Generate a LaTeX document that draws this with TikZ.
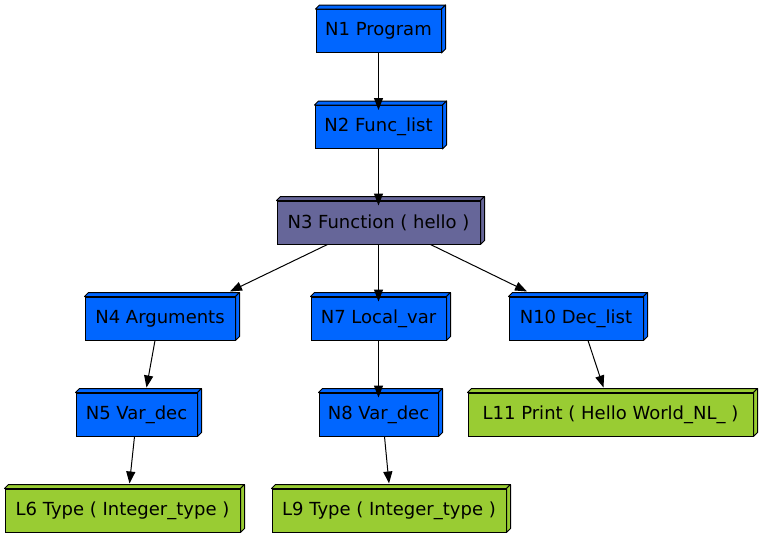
\documentclass[tikz,border=0pt]{standalone}
\usepackage{fontspec}
\setmainfont{DejaVu Sans}
\usetikzlibrary{arrows.meta,calc}
\definecolor{nblue}{HTML}{0066FF}
\definecolor{nslate}{HTML}{666699}
\definecolor{lgreen}{HTML}{99CC33}
\tikzset{
  box/.style={draw=black, line width=1pt, rectangle, minimum height=43pt, inner sep=0pt,
    font=\fontsize{18}{21}\selectfont, text=black},
  edge/.style={line width=1pt, -{Triangle[length=12pt,width=9pt]}},
  face/.style={draw=black, line width=1pt, line join=round}
}
\newcommand{\depthfaces}[2]{%
  \filldraw[face, fill=#2] (#1.north west) -- ++(4,-4) -- ($(#1.north east)+(4,-4)$) -- (#1.north east) -- cycle;
  \filldraw[face, fill=#2] (#1.north east) -- ++(4,-4) -- ($(#1.south east)+(4,-4)$) -- (#1.south east) -- cycle;
}
\begin{document}
\begin{tikzpicture}[x=1pt,y=-1pt]
\useasboundingbox (0,0) rectangle (764,539);
\fill[white] (0,0) rectangle (764,539);
\node[box, fill=nblue, minimum width=125pt] (n1) at (378.5,31) {N1 Program};
\node[box, fill=nblue, minimum width=127pt] (n2) at (378.5,127) {N2 Func\_list};
\node[box, fill=nslate, minimum width=203pt] (n3) at (378.5,222.5) {N3 Function ( hello )};
\node[box, fill=nblue, minimum width=150pt] (n4) at (160,318.5) {N4 Arguments};
\node[box, fill=nblue, minimum width=135pt] (n7) at (378.5,318.5) {N7 Local\_var};
\node[box, fill=nblue, minimum width=134pt] (n10) at (576,318.5) {N10 Dec\_list};
\node[box, fill=nblue, minimum width=121pt] (n5) at (136.5,414.5) {N5 Var\_dec};
\node[box, fill=nblue, minimum width=119pt] (n8) at (378.5,414.5) {N8 Var\_dec};
\node[box, fill=lgreen, minimum width=285pt] (l11) at (610.5,414.5) {L11 Print ( Hello World\_NL\_ )};
\node[box, fill=lgreen, minimum width=235pt] (l6) at (122.5,510.5) {L6 Type ( Integer\_type )};
\node[box, fill=lgreen, minimum width=234pt] (l9) at (389,510.5) {L9 Type ( Integer\_type )};
\depthfaces{n1}{nblue}
\depthfaces{n2}{nblue}
\depthfaces{n3}{nslate}
\depthfaces{n4}{nblue}
\depthfaces{n7}{nblue}
\depthfaces{n10}{nblue}
\depthfaces{n5}{nblue}
\depthfaces{n8}{nblue}
\depthfaces{l11}{lgreen}
\depthfaces{l6}{lgreen}
\depthfaces{l9}{lgreen}
\draw[edge] (n1.south) -- ([yshift=-5pt]n2.north);
\draw[edge] (n2.south) -- ([yshift=-5pt]n3.north);
\draw[edge] ([xshift=-51pt]n3.south) -- ([shift={(70,-5)}]n4.north);
\draw[edge] (n3.south) -- ([yshift=-5pt]n7.north);
\draw[edge] ([xshift=52pt]n3.south) -- ([shift={(-49,-5)}]n10.north);
\draw[edge] ([xshift=-5pt]n4.south) -- ([shift={(10,-5)}]n5.north);
\draw[edge] ([xshift=-2pt]n5.south) -- ([shift={(7,-5)}]l6.north);
\draw[edge] (n7.south) -- ([yshift=-5pt]n8.north);
\draw[edge] ([xshift=6pt]n8.south) -- ([shift={(0,-5)}]l9.north);
\draw[edge] ([xshift=12pt]n10.south) -- ([shift={(-7,-5)}]l11.north);
\end{tikzpicture}
\end{document}
